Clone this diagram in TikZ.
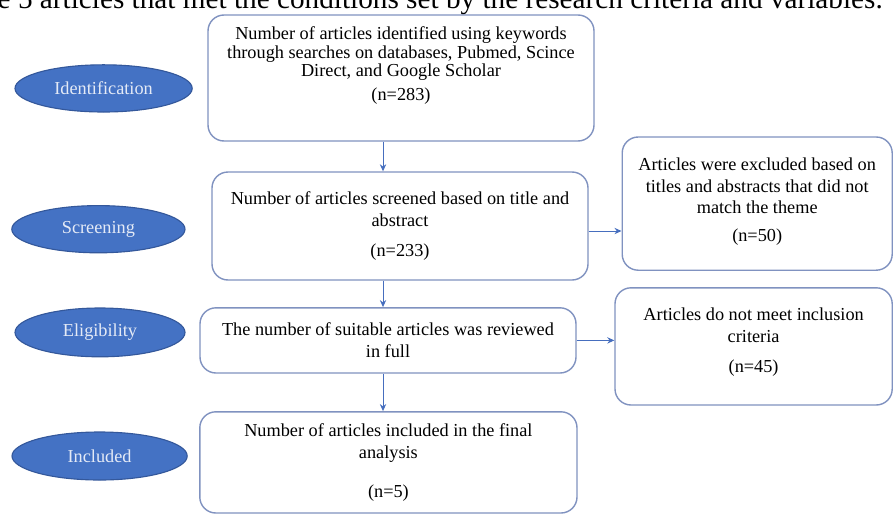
\documentclass[tikz,border=0pt]{standalone}
\usepackage{fontspec}
\setmainfont{Liberation Serif}
\usepackage{tikz}
\usetikzlibrary{shapes.geometric, arrows, arrows.meta}
\tikzstyle{phase} = [ellipse, draw=ovalline, line width=0.8pt, fill=ovalblue, text=ovaltext, inner sep=0pt, font=\fontsize{13}{15}\selectfont]
\tikzstyle{startstop} = [rectangle, rounded corners=0.4cm, draw=boxline, line width=1pt, fill=white, align=center, inner sep=2pt, font=\fontsize{13}{15.5}\selectfont]
\tikzstyle{arrow} = [draw=arrowblue, line width=0.7pt, -{Stealth[length=5pt,width=4.5pt]}]
\definecolor{ovalblue}{RGB}{68,114,196}
\definecolor{ovalline}{RGB}{52,88,155}
\definecolor{ovaltext}{RGB}{228,234,246}
\definecolor{boxline}{RGB}{128,146,192}
\definecolor{arrowblue}{RGB}{70,110,190}

\begin{document}
\begin{tikzpicture}
\useasboundingbox (0,0) rectangle (22.325,-12.9);
\clip (0,0) rectangle (22.325,-12.9);
\node (toptext) [anchor=base east, inner sep=0pt, font=\fontsize{20.8}{22}\selectfont] at (22.075,-0.2)
{e 5 articles that met the conditions set by the research criteria and variables.};
% phases
\node (ident) [phase, minimum width=4.43cm, minimum height=1.18cm] at (2.59,-2.21) {Identification};
\node (screen) [phase, minimum width=4.33cm, minimum height=1.18cm] at (2.46,-5.73) {Screening};
\node (elig) [phase, minimum width=4.25cm, minimum height=1.22cm] at (2.5,-8.31) {Eligibility};
\node (incl) [phase, minimum width=4.38cm, minimum height=1.2cm] at (2.49,-11.4) {Included};
% main column
\node (found) [startstop, minimum width=9.65cm, minimum height=3.15cm, font=\fontsize{13}{13}\selectfont] at (10.025,-1.95)
{Number of articles identified using keywords\\ through searches on databases, Pubmed, Scince\\ Direct, and Google Scholar\\[4pt] (n=283)\\[7.6pt]~};
\node (screened) [startstop, minimum width=9.4cm, minimum height=2.7cm] at (10.0,-5.65)
{Number of articles screened based on title and\\ abstract\\[6pt] (n=233)};
\node (full) [startstop, minimum width=9.4cm, minimum height=1.63cm] at (9.7,-8.51)
{The number of suitable articles was reviewed\\ in full};
\node (final) [startstop, minimum width=9.43cm, minimum height=2.53cm] at (9.71,-11.56)
{Number of articles included in the final\\ analysis\\[12pt] (n=5)};
% excluded
\node (exclA) [startstop, minimum width=6.75cm, minimum height=3.33cm] at (18.93,-5.09)
{Articles were excluded based on\\ titles and abstracts that did not\\ match the theme\\[4pt] (n=50)\\[-9.5pt]~};
\node (exclB) [startstop, minimum width=6.93cm, minimum height=2.93cm] at (18.84,-8.66)
{Articles do not meet inclusion\\ criteria\\[6pt] (n=45)\\[-7pt]~};
\coordinate (axis) at (9.575,0);
\draw[arrow] (found.south -| axis) -- (screened.north -| axis);
\draw[arrow] (screened.south -| axis) -- (full.north -| axis);
\draw[arrow] (full.south -| axis) -- (final.north -| axis);
\draw[arrow] ([yshift=-0.125cm]screened.east) -- ([yshift=-0.125cm]screened.east -| exclA.west);
\draw[arrow] (full.east) -- (full.east -| exclB.west);
\end{tikzpicture}
\end{document}
